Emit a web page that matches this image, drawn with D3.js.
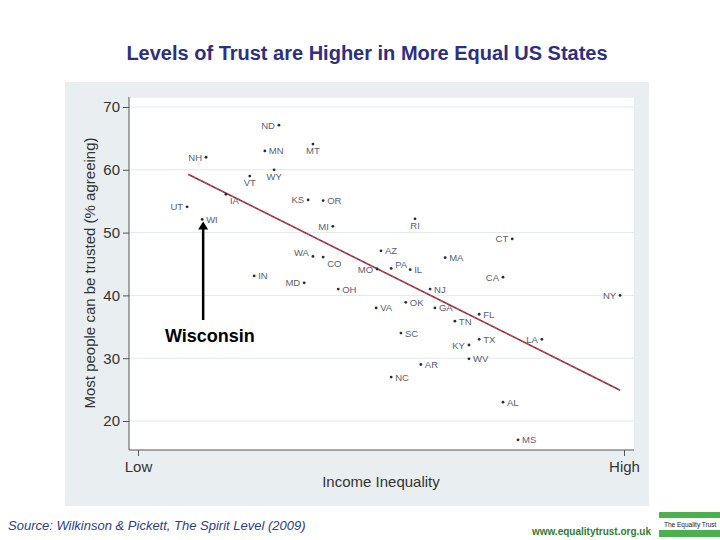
<!DOCTYPE html>
<html><head><meta charset="utf-8">
<script src="https://cdn.jsdelivr.net/npm/d3@7"></script>
<style>body{margin:0;background:#fff;}svg{display:block;font-family:"Liberation Sans",Arial,sans-serif;}</style>
</head><body><svg id="c" width="720" height="540"></svg>
<script>
const states = ["ND","MN","MT","NH","VT","WY","IA","KS","OR","UT","WI","MI","RI","CT","MA","CA","NY","FL","AZ","WA","CO","MO","PA","IL","MD","IN","OH","NJ","VA","OK","GA","TN","SC","TX","LA","KY","WV","AR","NC","AL","MS"];
const inequality = [29.0,26.1,36.0,14.0,23.0,28.0,18.1,35.0,38.1,10.1,13.2,40.1,57.0,77.0,63.2,75.1,99.2,70.2,50.0,36.0,38.1,49.2,52.1,56.0,34.2,23.9,41.2,60.1,49.0,55.1,61.1,65.2,54.1,70.2,83.1,68.1,68.1,58.2,52.1,75.1,78.2];
const trust = [67.1,63.0,64.1,62.0,59.0,60.0,56.1,55.2,55.1,54.1,52.1,51.0,52.2,49.0,46.0,42.9,40.0,37.0,47.1,46.2,46.1,44.2,44.3,44.1,42.0,43.1,41.0,41.0,38.0,38.9,38.0,35.9,34.0,33.0,33.0,32.1,29.9,29.0,27.0,23.0,17.0];
const labelSide = ["l","r","b","l","b","b","br","l","r","l","r","l","b","l","r","l","l","r","r","lu","br","l","ru","r","l","r","r","r","r","r","r","r","r","r","l","l","r","r","r","r","r"];
const yTicks = [20,30,40,50,60,70];
const xTickLabels = ["Low","High"];
const xTickValues = [0,100];
const trendX = [10.3,99.2];
const trendY = [59.3,24.9];
const highlight = {state:"WI", label:"Wisconsin"};

const svg = d3.select("#c");
svg.append("rect").attr("x",65).attr("y",82).attr("width",584).attr("height",424).attr("fill","#e9eff1");
const L=129,R=634,T=97,B=450;
svg.append("rect").attr("x",L).attr("y",T).attr("width",R-L).attr("height",B-T).attr("fill","#fff");

const x = d3.scaleLinear().domain([0,100]).range([138,624]);
const y = d3.scaleLinear().domain([70,20]).range([107,421]);

svg.append("g").selectAll("line").data(yTicks).join("line")
  .attr("x1",L).attr("x2",R).attr("y1",d=>y(d)).attr("y2",d=>y(d))
  .attr("stroke","#e3e9eb").attr("stroke-width",1);
svg.append("line").attr("x1",L).attr("x2",R).attr("y1",T+0.5).attr("y2",T+0.5).attr("stroke","#eef2f3");

const yAxis = d3.axisLeft(y).tickValues(yTicks).tickSize(6).tickPadding(3);
const gy = svg.append("g").attr("transform",`translate(${L},0)`).call(yAxis);
gy.select(".domain").attr("d",`M0,${T}V${B}`).attr("stroke","#555");
gy.selectAll(".tick line").attr("stroke","#555");
gy.selectAll("text").attr("font-size",15).attr("fill","#333").attr("font-family","Liberation Sans,Arial,sans-serif");

const xAxis = d3.axisBottom(x).tickValues(xTickValues).tickFormat((d,i)=>xTickLabels[i]).tickSize(6).tickPadding(5);
const gx = svg.append("g").attr("transform",`translate(0,${B})`).call(xAxis);
gx.select(".domain").attr("d",`M${L},0H${R}`).attr("stroke","#555");
gx.selectAll(".tick line").attr("stroke","#555");
gx.selectAll("text").attr("font-size",15).attr("fill","#333").attr("font-family","Liberation Sans,Arial,sans-serif");

svg.append("text").attr("x",381).attr("y",487).attr("text-anchor","middle").attr("font-size",15).attr("fill","#333").text("Income Inequality");
svg.append("text").attr("transform","translate(95,273) rotate(-90)").attr("text-anchor","middle").attr("font-size",15).attr("fill","#333").text("Most people can be trusted (% agreeing)");

svg.append("line").attr("x1",x(trendX[0])).attr("y1",y(trendY[0])).attr("x2",x(trendX[1])).attr("y2",y(trendY[1]))
  .attr("stroke","#96283a").attr("stroke-width",1.6);
svg.append("line").attr("x1",x(trendX[0])).attr("y1",y(trendY[0])).attr("x2",x(trendX[1])).attr("y2",y(trendY[1]))
  .attr("stroke","#c07080").attr("stroke-width",0.6).attr("stroke-dasharray","3,3");

const pts = states.map((s,i)=>({s,x:inequality[i],y:trust[i],side:labelSide[i]}));
const g = svg.append("g").attr("opacity",0.999);
g.selectAll("circle").data(pts).join("circle")
  .attr("cx",d=>x(d.x)).attr("cy",d=>y(d.y)).attr("r",1.4).attr("fill","#2a2a3a");
g.selectAll("text").data(pts).join("text")
  .attr("x",d=>{const px=x(d.x); if(d.side[0]==="l") return px-4; if(d.side==="b") return px; return px+4;})
  .attr("y",d=>{const py=y(d.y); if(d.side==="b"||d.side==="br") return py+10; if(d.side==="lu"||d.side==="ru") return py; return py+3.5;})
  .attr("text-anchor",d=>d.side[0]==="l"?"end":(d.side==="b"?"middle":"start"))
  .attr("font-size",9.5).attr("fill","#5a6070").text(d=>d.s);

const wi = pts.find(d=>d.s===highlight.state);
const ax = x(wi.x)+1;
svg.append("line").attr("x1",ax).attr("y1",320).attr("x2",ax).attr("y2",y(wi.y)+6)
  .attr("stroke","#000").attr("stroke-width",2.5);
svg.append("path").attr("d",`M${ax-5},${y(wi.y)+10}L${ax},${y(wi.y)+2}L${ax+5},${y(wi.y)+10}Z`).attr("fill","#000");
svg.append("text").attr("x",165).attr("y",342).attr("font-size",18).attr("font-weight","bold").attr("fill","#000").text(highlight.label);

svg.append("text").attr("x",367).attr("y",60).attr("text-anchor","middle").attr("font-size",20).attr("font-weight","bold").attr("fill","#2e2f7f").text("Levels of Trust are Higher in More Equal US States");

svg.append("text").attr("x",8).attr("y",530).attr("font-size",13).attr("font-style","italic").attr("fill","#2c3e8c").text("Source: Wilkinson & Pickett, The Spirit Level (2009)");
svg.append("text").attr("x",651).attr("y",535).attr("text-anchor","end").attr("font-size",10).attr("font-weight","bold").attr("fill","#2e7d32").text("www.equalitytrust.org.uk");
svg.append("rect").attr("x",659).attr("y",512).attr("width",61).attr("height",6).attr("fill","#4caf50");
svg.append("rect").attr("x",659).attr("y",530).attr("width",61).attr("height",7).attr("fill","#4caf50");
svg.append("text").attr("x",664).attr("y",527).attr("font-size",6.5).attr("fill","#222").text("The Equality Trust");
</script></body></html>
